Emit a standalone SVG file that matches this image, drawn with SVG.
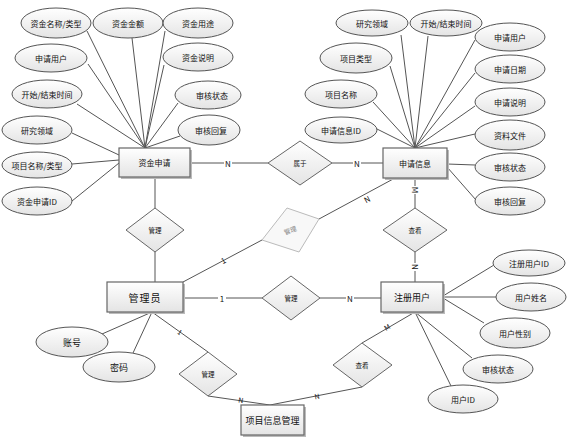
<svg xmlns="http://www.w3.org/2000/svg" width="571" height="439" viewBox="0 0 571 439">
<defs>
<linearGradient id="g" x1="0" y1="0" x2="0" y2="1"><stop offset="0" stop-color="#ffffff"/><stop offset="1" stop-color="#e4e4e4"/></linearGradient>
<style>
text{font-family:"Noto Sans CJK SC","Liberation Sans",sans-serif;fill:#111;text-anchor:middle;dominant-baseline:central}
.el{fill:url(#g);stroke:#555;stroke-width:1}
.en{fill:url(#g);stroke:#666;stroke-width:1.2}
.sh{fill:#bbb}
.dm{fill:url(#g);stroke:#666;stroke-width:1}
.dg{fill:#f8f8f8;stroke:#bbb;stroke-width:1}
.a{font-size:8px}
.e{font-size:9px}
.d{font-size:6.5px}
.c{font-size:8px}
#conn line,#conn polyline{stroke:#555;stroke-width:1;fill:none}
</style>
</defs>
<rect width="571" height="439" fill="#fff"/>
<g id="conn">
<!-- 资金申请 attributes -->
<line x1="87" y1="31" x2="145" y2="148"/>
<line x1="132" y1="38" x2="145" y2="148"/>
<line x1="165" y1="31" x2="145" y2="148"/>
<line x1="88" y1="64" x2="145" y2="148"/>
<line x1="164" y1="65" x2="145" y2="148"/>
<line x1="77" y1="104" x2="145" y2="148"/>
<line x1="178" y1="103" x2="145" y2="148"/>
<line x1="180" y1="136" x2="145" y2="148"/>
<line x1="72" y1="133" x2="119" y2="155"/>
<line x1="72" y1="164" x2="119" y2="160"/>
<line x1="72" y1="201" x2="119" y2="163"/>
<!-- 申请信息 attributes -->
<line x1="401" y1="35" x2="415" y2="148"/>
<line x1="428" y1="36" x2="415" y2="148"/>
<line x1="475" y1="40" x2="415" y2="148"/>
<line x1="390" y1="66" x2="415" y2="148"/>
<line x1="475" y1="73" x2="415" y2="148"/>
<line x1="373" y1="102" x2="415" y2="148"/>
<line x1="475" y1="106" x2="415" y2="148"/>
<line x1="377" y1="129" x2="415" y2="148"/>
<line x1="475" y1="134" x2="415" y2="148"/>
<line x1="447" y1="164" x2="475" y2="165"/>
<line x1="447" y1="167" x2="476" y2="200"/>
<!-- relationships -->
<line x1="190" y1="163" x2="268" y2="163"/>
<line x1="332" y1="163" x2="383" y2="163"/>
<line x1="155" y1="177" x2="155" y2="208"/>
<line x1="155" y1="252" x2="155" y2="282"/>
<line x1="183" y1="282" x2="262" y2="240"/>
<line x1="319" y1="219" x2="395" y2="178"/>
<line x1="415" y1="178" x2="415" y2="208"/>
<line x1="415" y1="252" x2="415" y2="282"/>
<line x1="183" y1="298" x2="262" y2="298"/>
<line x1="320" y1="298" x2="381" y2="298"/>
<!-- 注册用户 attributes -->
<line x1="443" y1="296" x2="494" y2="265"/>
<line x1="443" y1="297" x2="496" y2="297"/>
<line x1="443" y1="298" x2="484" y2="323"/>
<line x1="415" y1="312" x2="472" y2="358"/>
<line x1="415" y1="312" x2="451" y2="386"/>
<line x1="415" y1="312" x2="362" y2="343"/>
<polyline points="362,387 270,405 208,396"/>
<!-- 管理员 attributes -->
<line x1="152" y1="312" x2="102" y2="334"/>
<line x1="152" y1="312" x2="133" y2="353"/>
<line x1="152" y1="312" x2="208" y2="352"/>
<!-- cardinality labels -->
<g class="c">
<rect x="224" y="158" width="8" height="10" fill="#fff"/><text x="228" y="163">N</text>
<rect x="353" y="158" width="8" height="10" fill="#fff"/><text x="357" y="163">N</text>
<text x="223" y="260" transform="rotate(-28 223 260)">1</text>
<text x="367" y="199" transform="rotate(-28 367 199)">N</text>
<rect x="410" y="186" width="10" height="8" fill="#fff"/><text x="415" y="190" transform="rotate(90 415 190)">M</text>
<rect x="410" y="263" width="10" height="8" fill="#fff"/><text x="415" y="267" transform="rotate(90 415 267)">N</text>
<rect x="218" y="293" width="8" height="10" fill="#fff"/><text x="222" y="298">1</text>
<rect x="346" y="293" width="8" height="10" fill="#fff"/><text x="350" y="298">N</text>
<text x="180" y="332" transform="rotate(35 180 332)" font-size="7">1</text>
<text x="387" y="327" transform="rotate(-30 387 327)" font-size="7">M</text>
<text x="241" y="400" transform="rotate(8 241 400)" font-size="7">N</text>
<text x="317" y="396" transform="rotate(-11 317 396)" font-size="7">N</text>
</g>
</g>
<!-- entities -->
<g id="e-zjsq"><rect x="121" y="150" width="71" height="29" class="sh"/><rect x="119" y="148" width="71" height="29" class="en"/><text x="154.5" y="162.5" class="a">资金申请</text></g>
<g id="e-sqxx"><rect x="385" y="150" width="64" height="30" class="sh"/><rect x="383" y="148" width="64" height="30" class="en"/><text x="415" y="163" class="a">申请信息</text></g>
<g id="e-gly"><rect x="109" y="284" width="76" height="30" class="sh"/><rect x="107" y="282" width="76" height="30" class="en"/><text x="145" y="297" style="font-size:10px;letter-spacing:1px">管理员</text></g>
<g id="e-zcyh"><rect x="383" y="284" width="62" height="30" class="sh"/><rect x="381" y="282" width="62" height="30" class="en"/><text x="412" y="297" class="e">注册用户</text></g>
<g id="e-xmxx"><rect x="243" y="407" width="63" height="30" class="sh"/><rect x="241" y="405" width="63" height="30" class="en"/><text x="272.5" y="420" class="e">项目信息管理</text></g>
<!-- relationships -->
<g id="r-sy"><polygon points="268,163 300,141 332,163 300,185" class="dm"/><text x="300" y="163" class="d">属于</text></g>
<g id="r-gl1"><polygon points="126,230 155,208 184,230 155,252" class="dm"/><text x="155" y="230" class="d">管理</text></g>
<g id="r-gl2"><polygon points="262,240 287,208 319,219 299,252" class="dg"/><text x="290" y="230" class="d" style="fill:#888" transform="rotate(-20 290 230)">管理</text></g>
<g id="r-ck1"><polygon points="383,230 415,208 447,230 415,252" class="dm"/><text x="415" y="230" class="d">查看</text></g>
<g id="r-gl3"><polygon points="262,298 291,276 320,298 291,320" class="dm"/><text x="291" y="298" class="d">管理</text></g>
<g id="r-gl4"><polygon points="179,374 208,352 237,374 208,396" class="dm"/><text x="208" y="374" class="d">管理</text></g>
<g id="r-ck2"><polygon points="333,365 362,343 392,365 362,387" class="dm"/><text x="362" y="365" class="d">查看</text></g>
<!-- attributes of 资金申请 -->
<g id="a1"><ellipse cx="56" cy="23" rx="35" ry="15" class="el"/><text x="56" y="23" class="a">资金名称/类型</text></g>
<g id="a2"><ellipse cx="128" cy="23" rx="35" ry="15" class="el"/><text x="128" y="23" class="a">资金金额</text></g>
<g id="a3"><ellipse cx="198" cy="23" rx="35" ry="15" class="el"/><text x="198" y="23" class="a">资金用途</text></g>
<g id="a4"><ellipse cx="51" cy="58" rx="36" ry="14" class="el"/><text x="51" y="58" class="a">申请用户</text></g>
<g id="a5"><ellipse cx="198" cy="57" rx="35" ry="14" class="el"/><text x="198" y="57" class="a">资金说明</text></g>
<g id="a6"><ellipse cx="47" cy="94" rx="35" ry="14" class="el"/><text x="47" y="94" class="a">开始/结束时间</text></g>
<g id="a7"><ellipse cx="208" cy="95" rx="33" ry="14" class="el"/><text x="212" y="95" class="a">审核状态</text></g>
<g id="a8"><ellipse cx="37" cy="130" rx="35" ry="14" class="el"/><text x="37" y="130" class="a">研究领域</text></g>
<g id="a9"><ellipse cx="209" cy="130" rx="31" ry="15" class="el"/><text x="211" y="130" class="a">审核回复</text></g>
<g id="a10"><ellipse cx="37" cy="165" rx="35" ry="13" class="el"/><text x="37" y="165" class="a">项目名称/类型</text></g>
<g id="a11"><ellipse cx="37" cy="201" rx="35" ry="14" class="el"/><text x="37" y="201" class="a">资金申请ID</text></g>
<!-- attributes of 申请信息 -->
<g id="b1"><ellipse cx="372" cy="23" rx="36" ry="13" class="el"/><text x="372" y="23" class="a">研究领域</text></g>
<g id="b2"><ellipse cx="446" cy="23" rx="36" ry="13" class="el"/><text x="446" y="23" class="a">开始/结束时间</text></g>
<g id="b3"><ellipse cx="510" cy="37" rx="35" ry="14" class="el"/><text x="510" y="37" class="a">申请用户</text></g>
<g id="b4"><ellipse cx="356" cy="58" rx="36" ry="15" class="el"/><text x="356" y="58" class="a">项目类型</text></g>
<g id="b5"><ellipse cx="510" cy="69" rx="35" ry="14" class="el"/><text x="510" y="69" class="a">申请日期</text></g>
<g id="b6"><ellipse cx="341" cy="94" rx="36" ry="14" class="el"/><text x="341" y="94" class="a">项目名称</text></g>
<g id="b7"><ellipse cx="510" cy="102" rx="35" ry="14" class="el"/><text x="510" y="102" class="a">申请说明</text></g>
<g id="b8"><ellipse cx="341" cy="130" rx="36" ry="13" class="el"/><text x="341" y="130" class="a">申请信息ID</text></g>
<g id="b9"><ellipse cx="510" cy="135" rx="35" ry="15" class="el"/><text x="510" y="135" class="a">资料文件</text></g>
<g id="b10"><ellipse cx="510" cy="167" rx="35" ry="14" class="el"/><text x="510" y="167" class="a">审核状态</text></g>
<g id="b11"><ellipse cx="510" cy="201" rx="35" ry="14" class="el"/><text x="510" y="201" class="a">审核回复</text></g>
<!-- attributes of 注册用户 -->
<g id="c1"><ellipse cx="529" cy="263" rx="36" ry="13" class="el"/><text x="529" y="263" class="a">注册用户ID</text></g>
<g id="c2"><ellipse cx="531" cy="297" rx="35" ry="14" class="el"/><text x="531" y="297" class="a">用户姓名</text></g>
<g id="c3"><ellipse cx="515" cy="333" rx="35" ry="15" class="el"/><text x="515" y="333" class="a">用户性别</text></g>
<g id="c4"><ellipse cx="498" cy="369" rx="35" ry="14" class="el"/><text x="498" y="369" class="a">审核状态</text></g>
<g id="c5"><ellipse cx="463" cy="399" rx="35" ry="14" class="el"/><text x="463" y="399" class="a">用户ID</text></g>
<!-- attributes of 管理员 -->
<g id="d1"><ellipse cx="72" cy="342" rx="36" ry="15" class="el"/><text x="72" y="342" class="e">账号</text></g>
<g id="d2"><ellipse cx="119" cy="367" rx="36" ry="15" class="el"/><text x="119" y="367" class="e">密码</text></g>
</svg>
